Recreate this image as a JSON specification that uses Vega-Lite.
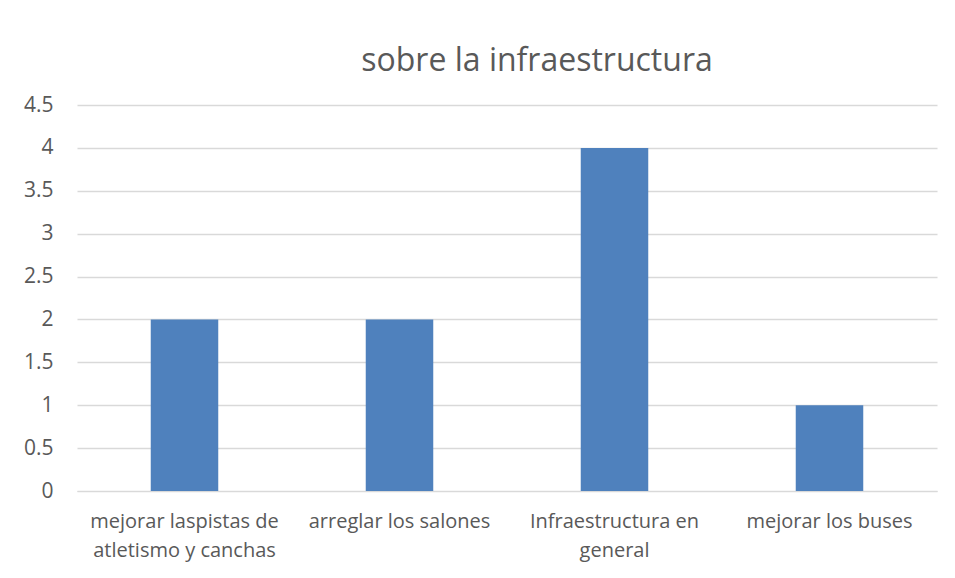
{
  "$schema": "https://vega.github.io/schema/vega-lite/v6.json",
  "width": 860,
  "height": 386,
  "autosize": {"type": "none"},
  "padding": {"left": 77, "top": 105, "right": 18, "bottom": 87},
  "background": "white",
  "title": {
    "text": "sobre la infraestructura",
    "font": "Open Sans",
    "fontSize": 32,
    "fontWeight": "normal",
    "color": "#595959",
    "anchor": "middle",
    "baseline": "alphabetic",
    "offset": -9,
    "dx": 30
  },
  "data": {
    "values": [
      {"categoria": "mejorar laspistas de atletismo y canchas", "valor": 2},
      {"categoria": "arreglar los salones", "valor": 2},
      {"categoria": "Infraestructura en general", "valor": 4},
      {"categoria": "mejorar los buses", "valor": 1}
    ]
  },
  "mark": {"type": "bar", "color": "#4F81BD"},
  "encoding": {
    "x": {
      "field": "categoria",
      "type": "nominal",
      "sort": null,
      "scale": {"paddingInner": 0.686, "paddingOuter": 0.343},
      "axis": {
        "title": null,
        "labelAngle": 0,
        "labelFont": "Open Sans",
        "labelFontSize": 20,
        "labelColor": "#595959",
        "labelLineHeight": 29,
        "labelPadding": 20,
        "labelBaseline": "top",
        "ticks": false,
        "domainColor": "#D9D9D9",
        "domainWidth": 1,
        "labelLimit": 300,
        "labelExpr": "datum.value == 'mejorar laspistas de atletismo y canchas' ? ['mejorar laspistas de', 'atletismo y canchas'] : datum.value == 'Infraestructura en general' ? ['Infraestructura en', 'general'] : datum.value"
      }
    },
    "y": {
      "field": "valor",
      "type": "quantitative",
      "scale": {"domain": [0, 4.5], "nice": false},
      "axis": {
        "title": null,
        "values": [0, 0.5, 1, 1.5, 2, 2.5, 3, 3.5, 4, 4.5],
        "format": "~g",
        "labelFont": "Open Sans",
        "labelFontSize": 21,
        "labelColor": "#595959",
        "labelPadding": 24,
        "ticks": false,
        "domain": false,
        "gridColor": "#D9D9D9",
        "gridWidth": 1.3
      }
    }
  },
  "config": {
    "view": {"stroke": null},
    "axis": {"labelFlush": false}
  }
}
